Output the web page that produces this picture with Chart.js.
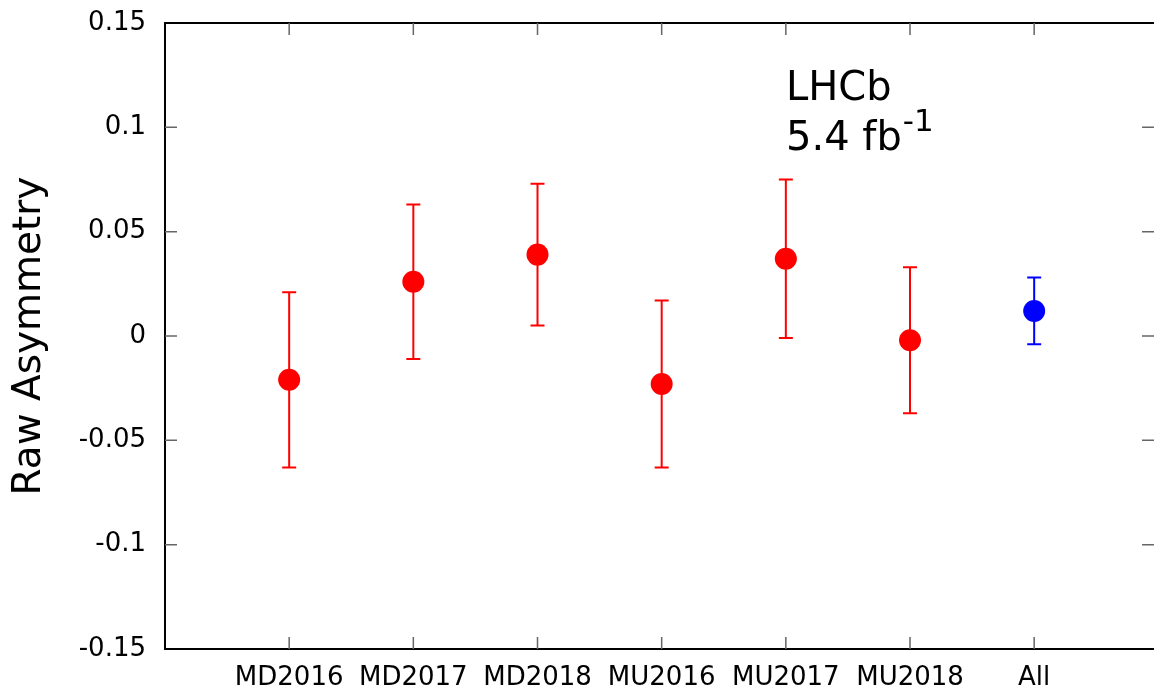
<!DOCTYPE html>
<html>
<head>
<meta charset="utf-8">
<script src="https://cdn.jsdelivr.net/npm/chart.js@4/dist/chart.umd.min.js"></script>
<style>
  html, body { margin: 0; padding: 0; background: #fff; }
  #wrap { width: 1154px; height: 693px; }
</style>
</head>
<body>
<div id="wrap"><canvas id="asym"></canvas></div>
<script>
"use strict";

const samples = ["MD2016", "MD2017", "MD2018", "MU2016", "MU2017", "MU2018", "All"];
const asymmetry = [-0.021, 0.026, 0.039, -0.023, 0.037, -0.002, 0.012];
const errUp = [0.021, 0.063, 0.073, 0.017, 0.075, 0.033, 0.028];
const errDown = [-0.063, -0.011, 0.005, -0.063, -0.001, -0.037, -0.004];
const yTicks = [-0.15, -0.1, -0.05, 0, 0.05, 0.1, 0.15];
const yTickLabels = ["-0.15", "-0.1", "-0.05", "0", "0.05", "0.1", "0.15"];

const FONT = "'DejaVu Sans', sans-serif";

const pointColor = samples.map((s) => (s === "All" ? "#0000ff" : "#ff0000"));

// error bars behind the markers
const errorBars = {
  id: "errorBars",
  beforeDatasetsDraw(chart) {
    const { ctx, scales } = chart;
    ctx.save();
    ctx.lineWidth = 2;
    samples.forEach((_, i) => {
      const x = scales.x.getPixelForValue(i + 1);
      const yTop = scales.y.getPixelForValue(errUp[i]);
      const yBot = scales.y.getPixelForValue(errDown[i]);
      ctx.strokeStyle = pointColor[i];
      ctx.beginPath();
      ctx.moveTo(x, yTop);
      ctx.lineTo(x, yBot);
      ctx.moveTo(x - 7, yTop);
      ctx.lineTo(x + 7, yTop);
      ctx.moveTo(x - 7, yBot);
      ctx.lineTo(x + 7, yBot);
      ctx.stroke();
    });
    ctx.restore();
  },
};

// gnuplot style frame with inward ticks
const frame = {
  id: "frame",
  afterDraw(chart) {
    const { ctx, chartArea: a, scales } = chart;
    ctx.save();
    ctx.strokeStyle = "#000";
    ctx.lineWidth = 2;
    ctx.beginPath();
    ctx.moveTo(a.right + 2, a.top);
    ctx.lineTo(a.left, a.top);
    ctx.lineTo(a.left, a.bottom);
    ctx.lineTo(a.right + 2, a.bottom);
    ctx.stroke();

    ctx.strokeStyle = "#666";
    ctx.lineWidth = 1.5;
    ctx.beginPath();
    yTicks.forEach((v) => {
      if (v === yTicks[0] || v === yTicks[yTicks.length - 1]) return;
      const y = scales.y.getPixelForValue(v);
      ctx.moveTo(a.left, y);
      ctx.lineTo(a.left + 12, y);
      ctx.moveTo(a.right, y);
      ctx.lineTo(a.right - 12, y);
    });
    samples.forEach((_, i) => {
      const x = scales.x.getPixelForValue(i + 1);
      ctx.moveTo(x, a.bottom);
      ctx.lineTo(x, a.bottom - 12);
      ctx.moveTo(x, a.top);
      ctx.lineTo(x, a.top + 12);
    });
    ctx.stroke();

    // annotation
    ctx.fillStyle = "#000";
    ctx.textAlign = "left";
    ctx.textBaseline = "alphabetic";
    ctx.font = "40px " + FONT;
    ctx.fillText("LHCb", 786, 100);
    ctx.fillText("5.4 fb", 786, 150);
    const w = ctx.measureText("5.4 fb").width;
    ctx.font = "31px " + FONT;
    ctx.fillText("-1", 786 + w + 1, 131);
    ctx.restore();
  },
};

new Chart(document.getElementById("asym"), {
  type: "scatter",
  data: {
    datasets: [
      {
        label: "Raw Asymmetry",
        data: asymmetry.map((v, i) => ({ x: i + 1, y: v })),
        pointRadius: 11,
        pointHoverRadius: 11,
        pointBackgroundColor: pointColor,
        pointBorderColor: pointColor,
        pointBorderWidth: 0,
      },
    ],
  },
  options: {
    responsive: true,
    maintainAspectRatio: false,
    animation: false,
    layout: { autoPadding: false, padding: { top: 23, right: 0, left: 0, bottom: 0 } },
    plugins: {
      legend: { display: false },
      tooltip: { enabled: false },
    },
    scales: {
      x: {
        type: "linear",
        min: 0,
        max: 7.965,
        afterBuildTicks: (scale) => {
          scale.ticks = samples.map((_, i) => ({ value: i + 1 }));
        },
        afterFit: (scale) => {
          scale.height = 44;
          scale.paddingLeft = 0;
          scale.paddingRight = 0;
        },
        grid: { display: false, drawTicks: false },
        border: { display: false },
        ticks: {
          color: "#000",
          padding: 14,
          maxRotation: 0,
          autoSkip: false,
          font: { family: FONT, size: 26 },
          callback: (value) => samples[value - 1] || "",
        },
      },
      y: {
        min: -0.15,
        max: 0.15,
        afterBuildTicks: (scale) => {
          scale.ticks = yTicks.map((v) => ({ value: v }));
        },
        afterFit: (scale) => {
          scale.width = 165;
          scale.paddingTop = 0;
          scale.paddingBottom = 0;
        },
        grid: { display: false, drawTicks: false },
        border: { display: false },
        title: {
          display: true,
          text: "Raw Asymmetry",
          color: "#000",
          font: { family: FONT, size: 39 },
          padding: { top: 6, bottom: 0 },
        },
        ticks: {
          color: "#000",
          padding: 19,
          font: { family: FONT, size: 26 },
          callback: (value) => {
            const idx = yTicks.findIndex((t) => Math.abs(t - value) < 1e-9);
            return idx >= 0 ? yTickLabels[idx] : "";
          },
        },
      },
    },
  },
  plugins: [errorBars, frame],
});
</script>
</body>
</html>
